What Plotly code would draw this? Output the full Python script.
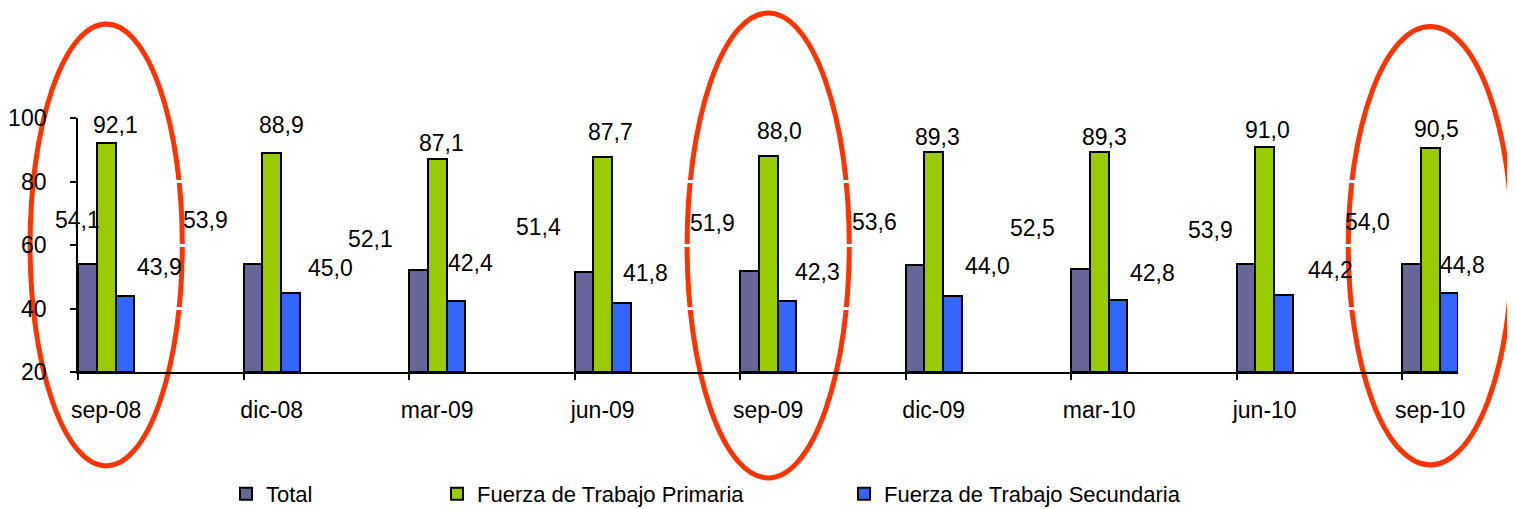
import plotly.graph_objects as go

# ---------------- data ----------------
CATEGORIES = ["sep-08", "dic-08", "mar-09", "jun-09", "sep-09",
              "dic-09", "mar-10", "jun-10", "sep-10"]
TOTAL = [54.1, 53.9, 52.1, 51.4, 51.9, 53.6, 52.5, 53.9, 54.0]
PRIMARIA = [92.1, 88.9, 87.1, 87.7, 88.0, 89.3, 89.3, 91.0, 90.5]
SECUNDARIA = [43.9, 45.0, 42.4, 41.8, 42.3, 44.0, 42.8, 44.2, 44.8]
SERIES_NAMES = ["Total", "Fuerza de Trabajo Primaria", "Fuerza de Trabajo Secundaria"]
Y_TICKS = [20, 40, 60, 80, 100]
HIGHLIGHTED = ["sep-08", "sep-09", "sep-10"]

# ---------------- layout / style ----------------
PAGE_OFFSET = 8                     # default body margin of the html page
W, H = 1515 - PAGE_OFFSET, 509 - PAGE_OFFSET
ML, MR, MT, MB = 78 - PAGE_OFFSET, 57, 118 - PAGE_OFFSET, 137
CAT_PX = 165.5
XMAX = (W - ML - MR) / CAT_PX
BAR_W = 0.1135
GROUP_C = 1.5 * BAR_W
COLORS = ["#666699", "#99cc00", "#3366ff"]
FONT = "Liberation Sans, Arial, sans-serif"
FS = 23
NBSP = "\u00a0"

# manual label offsets in pixels (dx right, dy up from bar top)
LABEL_DX = [
    [-10, -47, -48, -45, -37, -40, -48, -35, -44],
    [9, 10, 4, 8, 11, 4, 5, 3, 6],
    [35, 40, 15, 24, 31, 35, 35, 47, 14],
]
LABEL_DY = [
    [44, 44, 31, 45, 48, 43, 41, 34, 42],
    [18, 28, 16, 25, 25, 15, 15, 17, 19],
    [29, 25, 38, 30, 29, 30, 27, 25, 28],
]
# ellipse half-width (category units) and top/bottom (paper units)
ELL_HALF_W = [0.46, 0.49, 0.495]
ELL_TOP = [1.37, 1.413, 1.36]
ELL_BOT = [-0.370, -0.417, -0.366]
LEGEND_X_PX = [218, 429, 836]
LEGEND_Y_PX = 494 - PAGE_OFFSET

series = [TOTAL, PRIMARIA, SECUNDARIA]
xs = list(range(len(CATEGORIES)))

fig = go.Figure()
for k, (vals, name) in enumerate(zip(series, SERIES_NAMES)):
    fig.add_trace(go.Bar(
        x=xs, y=[v - 20 for v in vals], base=20, name=name,
        width=BAR_W, offset=k * BAR_W,
        marker=dict(color=COLORS[k], line=dict(color="black", width=2)),
        legend="legend" if k == 0 else f"legend{k+1}",
        hoverinfo="skip",
    ))

# dummy trace for the label axis
fig.add_trace(go.Scatter(x=[i + GROUP_C for i in xs], y=[None] * len(xs),
                         xaxis="x2", showlegend=False, hoverinfo="skip"))

annotations = []
for k, vals in enumerate(series):
    for i, v in enumerate(vals):
        annotations.append(dict(
            x=i + k * BAR_W + BAR_W / 2, y=v, xref="x", yref="y",
            text=f"{v:.1f}".replace(".", ","), showarrow=False,
            xshift=LABEL_DX[k][i], yshift=LABEL_DY[k][i],
            xanchor="center", yanchor="middle",
            font=dict(family=FONT, size=FS, color="black"),
        ))

shapes = []
for j, cat in enumerate(HIGHLIGHTED):
    c = CATEGORIES.index(cat) + GROUP_C
    shapes.append(dict(
        type="circle", xref="paper", yref="paper", layer="below",
        x0=(c - ELL_HALF_W[j]) / XMAX, x1=(c + ELL_HALF_W[j]) / XMAX,
        y0=ELL_BOT[j], y1=ELL_TOP[j],
        line=dict(color="#ff3300", width=5), fillcolor="rgba(0,0,0,0)",
    ))

legend_common = dict(orientation="h", xref="container", yref="container",
                     xanchor="left", yanchor="middle", y=1 - LEGEND_Y_PX / H,
                     font=dict(family=FONT, size=FS - 1, color="black"),
                     bgcolor="rgba(0,0,0,0)", itemwidth=30)

fig.update_layout(
    width=W, height=H,
    margin=dict(l=ML, r=MR, t=MT, b=MB, autoexpand=False),
    paper_bgcolor="white", plot_bgcolor="rgba(0,0,0,0)",
    barmode="overlay", bargap=0,
    font=dict(family=FONT, size=FS, color="black"),
    showlegend=True,
    legend=dict(x=LEGEND_X_PX[0] / W, **legend_common),
    legend2=dict(x=LEGEND_X_PX[1] / W, **legend_common),
    legend3=dict(x=LEGEND_X_PX[2] / W, **legend_common),
    xaxis=dict(range=[0, XMAX], tickvals=xs, showticklabels=False,
               ticks="outside", ticklen=6, tickwidth=1.5, tickcolor="black",
               showline=True, linecolor="black", linewidth=1.5,
               showgrid=False, zeroline=False, fixedrange=True),
    xaxis2=dict(range=[0, XMAX], overlaying="x", anchor="y", side="bottom",
                tickvals=[i + GROUP_C for i in xs], ticktext=CATEGORIES,
                ticks="", showline=False, showgrid=False, zeroline=False,
                ticklabelstandoff=22,
                tickfont=dict(family=FONT, size=FS, color="black")),
    yaxis=dict(range=[20, 100], tickvals=Y_TICKS,
               ticktext=[f"{t}{NBSP * 3}" for t in Y_TICKS],
               ticks="outside", ticklen=6, tickwidth=1.5, tickcolor="black",
               showline=True, linecolor="black", linewidth=1.5,
               showgrid=True, gridcolor="white", gridwidth=2.5,
               zeroline=False,
               tickfont=dict(family=FONT, size=FS, color="black")),
    annotations=annotations,
    shapes=shapes,
)

fig.write_html("out.html")
